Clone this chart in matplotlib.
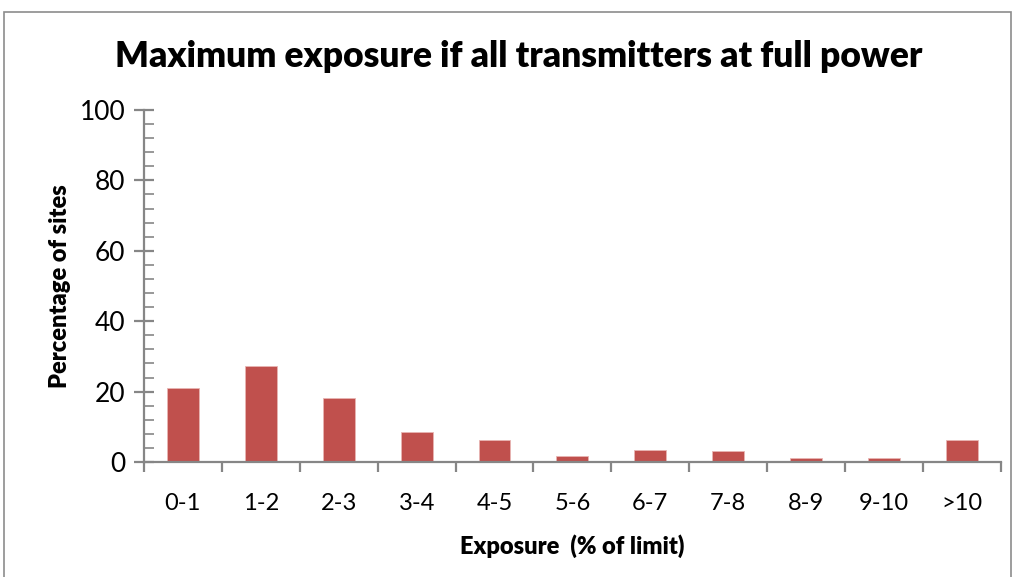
import matplotlib
matplotlib.use("Agg")
import matplotlib.pyplot as plt
from matplotlib.patches import Rectangle
from matplotlib.ticker import MultipleLocator, FixedLocator, NullFormatter

categories = ["0-1", "1-2", "2-3", "3-4", "4-5", "5-6", "6-7", "7-8", "8-9", "9-10", ">10"]
percent_sites = [21.0, 27.3, 18.2, 8.6, 6.3, 1.8, 3.5, 3.0, 1.2, 1.2, 6.3]

title = "Maximum exposure if all transmitters at full power"
xlabel = "Exposure  (% of limit)"
ylabel = "Percentage of sites"

plt.rcParams['font.family'] = ['Lato', 'DejaVu Sans']

fig = plt.figure(figsize=(10.14, 5.77), dpi=100)
ax = fig.add_axes([0.142, 0.1993, 0.845, 0.6101])

axis_grey = "#868686"
x = list(range(len(categories)))
ax.bar(x, percent_sites, width=0.41, color="#C0504D", edgecolor="#E8B5B3", linewidth=0.6)

ax.set_xlim(-0.5, len(categories) - 0.5)
ax.set_ylim(0, 100)

ax.yaxis.set_major_locator(MultipleLocator(20))
ax.yaxis.set_minor_locator(MultipleLocator(4))
ax.xaxis.set_major_locator(FixedLocator([i - 0.5 for i in range(len(categories) + 1)]))
ax.xaxis.set_major_formatter(NullFormatter())
ax.xaxis.set_minor_locator(FixedLocator(x))
ax.set_xticklabels(categories, minor=True)

ax.tick_params(axis="y", which="major", direction="inout", length=15, width=1.6,
               color=axis_grey, labelsize=19, pad=6)
ax.tick_params(axis="y", which="minor", direction="in", length=7, width=1.2, color=axis_grey)
ax.tick_params(axis="x", which="major", direction="out", length=7, width=1.6, color=axis_grey)
ax.tick_params(axis="x", which="minor", length=0, labelsize=17, pad=22)

for side in ("top", "right"):
    ax.spines[side].set_visible(False)
for side in ("left", "bottom"):
    ax.spines[side].set_color(axis_grey)
    ax.spines[side].set_linewidth(1.6)

ax.set_ylabel(ylabel, fontsize=17, fontweight="heavy", labelpad=6)
ax.set_xlabel(xlabel, fontsize=17, fontweight="heavy", labelpad=15)

fig.text(0.512, 0.902, title, ha="center", va="center", fontsize=25.5, fontweight="heavy")

fig.patches.append(Rectangle((0.004, -0.01), 0.993, 0.99, transform=fig.transFigure,
                             fill=False, edgecolor="#8c8c8c", linewidth=1.2))

fig.savefig("out.png", dpi=100)
